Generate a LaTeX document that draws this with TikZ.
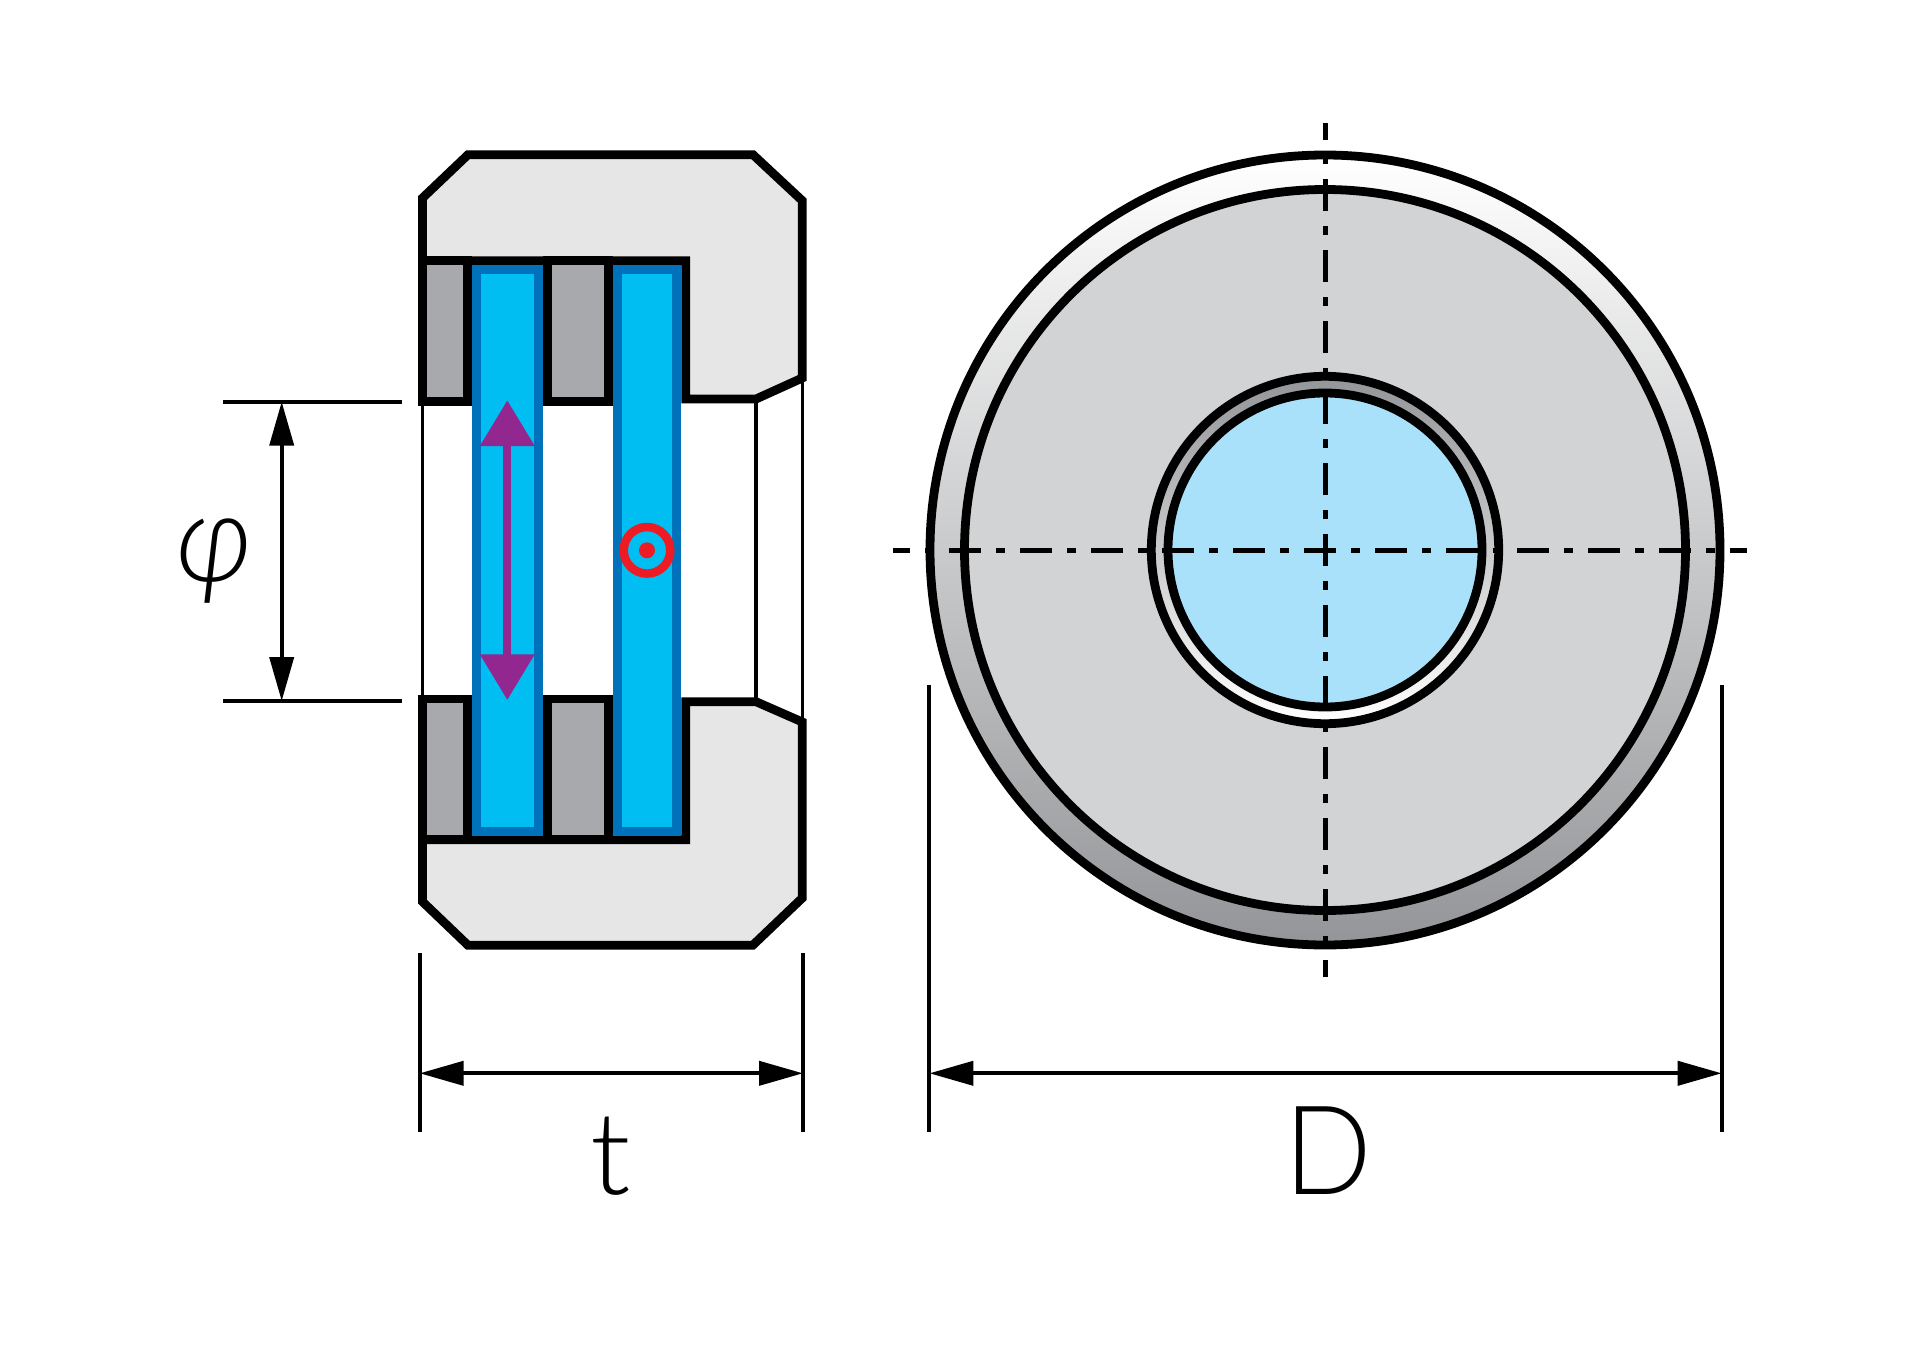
\documentclass[tikz,border=0pt]{standalone}
\usepackage{fontspec}
\usetikzlibrary{arrows.meta}
\newfontfamily\dimfont{Lato Light}
\newfontfamily\dimfontit{Lato Light Italic}
\definecolor{shell}{HTML}{E6E6E6}
\definecolor{blockgray}{HTML}{A7A9AC}
\definecolor{stripedge}{HTML}{0072BC}
\definecolor{stripfill}{HTML}{00BDF2}
\definecolor{pmag}{HTML}{92278F}
\definecolor{pred}{HTML}{ED1C24}
\definecolor{diskgray}{HTML}{D1D3D4}
\definecolor{holeblue}{HTML}{A9E1FB}
\definecolor{graddark}{HTML}{939598}
\tikzset{
  x=1pt,y=-1pt,
  thick outline/.style={draw=black,line width=8.8pt,miter limit=10},
  thin edge/.style={draw=black,line width=3.6pt},
  ext line/.style={draw=black,line width=4pt},
  dim arrow/.style={draw=black,line width=4pt,{Triangle[length=44pt,width=24pt]}-{Triangle[length=44pt,width=24pt]}},
  strip/.style={draw=stripedge,fill=stripfill,line width=8.5pt},
  center line/.style={draw=black,line width=5pt,dash pattern=on 32pt off 15pt on 8.7pt off 15.3pt,dash phase=15pt},
  dim text/.style={inner sep=0pt,outer sep=0pt,font=\dimfont\fontsize{124}{124}\selectfont,anchor=base},
}
\begin{document}
\begin{tikzpicture}
\useasboundingbox (0,0) rectangle (1920,1351);
% thin edges
\draw[thin edge] (422.3,400) -- (422.3,700);
\draw[thin edge] (756,399) -- (756,702);
\draw[thin edge] (802.3,378) -- (802.3,722);
% shell
\draw[thick outline,fill=shell] (422.5,198) -- (468,154.7) -- (753,154.7) -- (802.3,200.7) -- (802.3,378) -- (756,399) -- (685.7,399) -- (685.7,260.7) -- (422.5,260.7) -- cycle;
\draw[thick outline,fill=shell] (422.5,901.7) -- (468,945.3) -- (752.7,945.3) -- (802.3,898) -- (802.3,722) -- (756,701.7) -- (685.7,701.7) -- (685.7,839.7) -- (422.5,839.7) -- cycle;
% blocks
\draw[thick outline,fill=blockgray] (422.5,260.7) rectangle (467.3,401.7);
\draw[thick outline,fill=blockgray] (547.3,260.7) rectangle (608.3,401.7);
\draw[thick outline,fill=blockgray] (422.5,699) rectangle (467.3,839.7);
\draw[thick outline,fill=blockgray] (547.3,699) rectangle (608.3,839.7);
% strips
\draw[strip] (476.5,269.5) rectangle (538.5,831);
\draw[strip] (617.5,269.5) rectangle (676.5,831);
% polarisation arrow
\coordinate (polA) at (507.3,400.3);
\coordinate (polB) at (507.3,700);
\draw[draw=pmag,line width=8pt,{Triangle[length=45.7pt,width=52.7pt,fill=pmag]}-{Triangle[length=45.7pt,width=52.7pt,fill=pmag]}] (polA) -- (polB);
% field symbol
\draw[draw=pred,line width=8.5pt] (647,550.3) circle (23.3);
\fill[pred] (647,550.3) circle (8);
% disk
\coordinate (ctr) at (1325,550);
\shade[top color=white,bottom color=graddark] (ctr) circle (395);
\draw[draw=black,line width=8.8pt] (ctr) circle (395);
\draw[draw=black,line width=8.8pt,fill=diskgray] (ctr) circle (360.5);
\shade[top color=graddark,bottom color=white] (ctr) circle (173.7);
\draw[draw=black,line width=8.8pt] (ctr) circle (173.7);
\draw[draw=black,line width=8.8pt,fill=holeblue] (ctr) circle (157);
% centre lines
\coordinate (hL) at (893,550);
\coordinate (hR) at (1746.7,550);
\coordinate (vT) at (1325,123.3);
\coordinate (vB) at (1325,976.7);
\draw[center line] (hL) -- (hR);
\draw[center line] (vT) -- (vB);
% dimension phi
\coordinate (phT1) at (223.3,401.7);
\coordinate (phT2) at (401.7,401.7);
\coordinate (phB1) at (223.3,701);
\coordinate (phB2) at (401.7,701);
\coordinate (phA) at (281.7,401.7);
\coordinate (phB) at (281.7,701);
\draw[ext line] (phT1) -- (phT2);
\draw[ext line] (phB1) -- (phB2);
\draw[dim arrow] (phA) -- (phB);
\node[dim text] (philabel) at (215,581) {\dimfontit\scalebox{0.95}[1]{φ}};
% dimension t
\coordinate (tL1) at (419.7,953);
\coordinate (tL2) at (419.7,1131.7);
\coordinate (tR1) at (803,953);
\coordinate (tR2) at (803,1131.7);
\coordinate (tA) at (419.7,1073.3);
\coordinate (tB) at (803,1073.3);
\draw[ext line] (tL1) -- (tL2);
\draw[ext line] (tR1) -- (tR2);
\draw[dim arrow] (tA) -- (tB);
\node[dim text] (tlabel) at (611,1194) {\scalebox{0.95}[0.93]{t}};
% dimension D
\coordinate (dL1) at (929.4,684.5);
\coordinate (dL2) at (929.4,1131.7);
\coordinate (dR1) at (1721.7,684.5);
\coordinate (dR2) at (1721.7,1131.7);
\coordinate (dA) at (929.4,1073.3);
\coordinate (dB) at (1721.7,1073.3);
\draw[ext line] (dL1) -- (dL2);
\draw[ext line] (dR1) -- (dR2);
\draw[dim arrow] (dA) -- (dB);
\node[dim text] (dlabel) at (1328,1194) {\scalebox{0.93}[1]{D}};
\end{tikzpicture}
\end{document}
